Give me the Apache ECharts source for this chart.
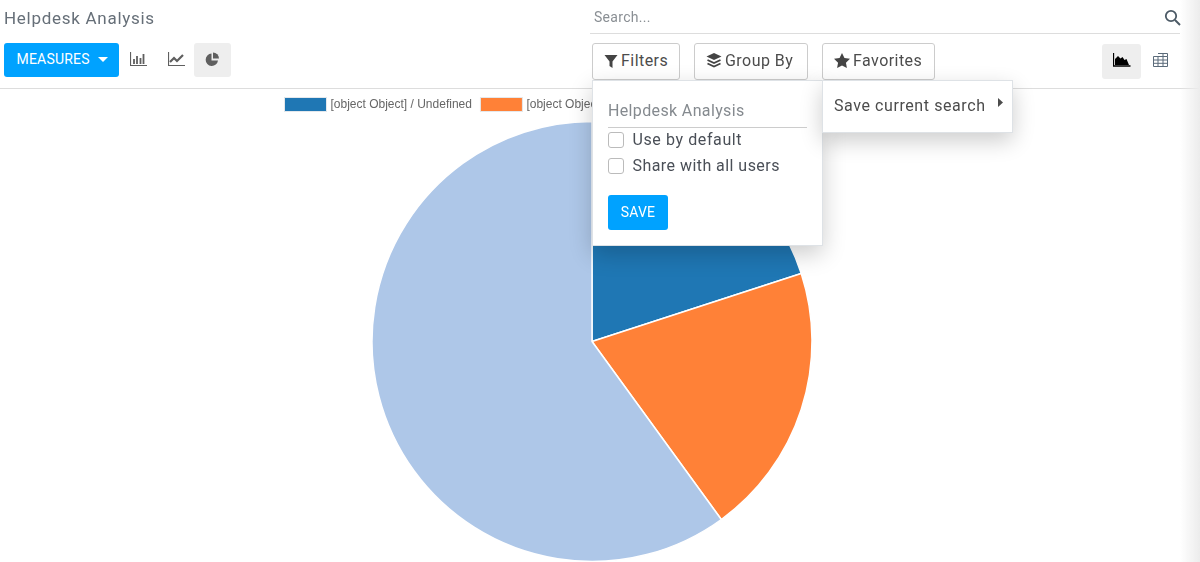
<!DOCTYPE html>
<html>
<head>
<meta charset="utf-8">
<title>Helpdesk Analysis</title>
<script src="https://cdn.jsdelivr.net/npm/echarts@6/dist/echarts.min.js"></script>
<style type="text/css">
	html, body { margin: 0; padding: 0; background: #fff; overflow: hidden; }
	body { width: 1200px; height: 562px; position: relative; font-family: Roboto, "Noto Sans", sans-serif; color: #4c4c4c; font-size: 16px; }
	#main { position: absolute; left: 0; top: 0; width: 1200px; height: 562px; }
	.abs { position: absolute; box-sizing: border-box; white-space: nowrap; }
	.btn { border: 1px solid #ccc; border-radius: 3px; background: #fff; height: 37px; top: 43px; line-height: 33px; padding-left: 11px; letter-spacing: .45px; }
	.btn svg { vertical-align: -2px; margin-right: 3px; }
	.active { background: #eee; border-radius: 3px; }
	.popup { background: #fff; border: 1px solid #dee2e6; box-shadow: 0 8px 22px rgba(0,0,0,.2); }
	.check { width: 16px; height: 16px; border: 1px solid #bbb; border-radius: 3px; background: #fff; left: 608px; }
	.edge { left: 1180px; top: 0; width: 20px; height: 562px; background: linear-gradient(to right, rgba(235,235,235,0), #ececec); }
</style>
</head>
<body>
	<div id="main"></div>

	<!-- top bar -->
	<div class="abs" style="left:4px;top:8px;font-size:17px;line-height:20px;color:#666f78;letter-spacing:.72px">Helpdesk Analysis</div>
	<div class="abs" style="left:594px;top:8px;font-size:14px;line-height:18px;color:#8a8f94;letter-spacing:.3px">Search...</div>
	<div class="abs" style="left:590px;top:33px;width:590px;height:1px;background:#ddd"></div>
	<svg class="abs" style="left:1164px;top:9px" width="17" height="17" viewBox="0 0 17 17"><circle cx="7" cy="7" r="5.2" fill="none" stroke="#4c5a66" stroke-width="1.8"/><path d="M11 11l5 5" stroke="#4c5a66" stroke-width="2"/></svg>
	<div class="abs" style="left:0;top:88px;width:1200px;height:1px;background:#ddd"></div>

	<div class="abs" style="left:4px;top:43px;width:115px;height:34px;background:#00a2ff;border-radius:3px;color:#fff;font-size:14px;line-height:32px;padding-left:12.5px;letter-spacing:.2px">MEASURES</div>
	<svg class="abs" style="left:98px;top:57px" width="10" height="6"><path d="M0 0h10L5 5z" fill="#fff"/></svg>
	<svg class="abs" style="left:130px;top:52px" width="18" height="14" viewBox="0 0 18 14"><path d="M.5 0v13.5H17" stroke="#5f5f5f" stroke-width="1.2" fill="none"/><path d="M4 7v5M7 4v8M10.500 6v6M13.500 2v10" stroke="#5f5f5f" stroke-width="1.8" fill="none"/></svg>
	<svg class="abs" style="left:168px;top:52px" width="18" height="14" viewBox="0 0 18 14"><path d="M.5 0v13.5H17" stroke="#5f5f5f" stroke-width="1.2" fill="none"/><path d="M2 10l4-4 3 3 6-6" stroke="#5f5f5f" stroke-width="2.2" fill="none"/></svg>
	<div class="abs active" style="left:194px;top:43px;width:37px;height:34px"></div>
	<svg class="abs" style="left:205px;top:52px" width="15" height="15" viewBox="0 0 15 15"><path d="M6.500 1.500A6.200 6.200 0 1 0 13 8.500H6.500z" fill="#5f5f5f"/><path d="M8 0.500A6 6 0 0 1 14 6.500H8z" fill="#5f5f5f"/></svg>

	<div class="abs btn" style="left:592px;width:88px">
		<svg width="14" height="13" viewBox="0 0 13 13"><path d="M0 0h13L8 6.500V13L5 11V6.500z" fill="#444"/></svg>Filters
	</div>
	<div class="abs btn" style="left:694px;width:114px">
		<svg width="16" height="15" viewBox="0 0 15 15"><path d="M7.500 0L15 3.500 7.500 7 0 3.500z" fill="#444"/><path d="M1 7l6.500 3L14 7M1 10.500l6.500 3 6.500-3" fill="none" stroke="#444" stroke-width="1.800"/></svg>Group By
	</div>
	<div class="abs btn" style="left:822px;width:113px">
		<svg width="16" height="15" viewBox="0 0 15 14"><path d="M7.500 0l2.300 4.700 5.200.7-3.800 3.600.9 5-4.600-2.400L2.900 14l.9-5L0 5.400l5.200-.7z" fill="#444"/></svg>Favorites
	</div>

	<div class="abs active" style="left:1102px;top:44px;width:39px;height:35px"></div>
	<svg class="abs" style="left:1113px;top:53px" width="18" height="14" viewBox="0 0 18 14"><path d="M.5 0v13H17.500" stroke="#000" stroke-width="1.300" fill="none"/><path d="M2 12V6l3-3 2.500 2.500L9.500 4l2 3 2-1 2.500 6z" fill="#000"/></svg>
	<svg class="abs" style="left:1153px;top:53px" width="15" height="14" viewBox="0 0 15 14"><path d="M.5 3.500h14v10H.500zM5 .5h9.500v3M.5 7h14M.5 10.300h14M5 3.500v10M10 .5v13" fill="none" stroke="#5b6b7a" stroke-width="1"/></svg>

	<!-- dropdowns -->
	<div class="abs popup" style="left:592px;top:80px;width:231px;height:166px"></div>
	<div class="abs popup" style="left:822px;top:80px;width:191px;height:53px"></div>
	<div class="abs" style="left:608px;top:101px;line-height:20px;color:#858a8f;letter-spacing:.36px">Helpdesk Analysis</div>
	<div class="abs" style="left:608px;top:127px;width:199px;height:1px;background:#ccc"></div>
	<div class="abs check" style="top:132px"></div>
	<div class="abs" style="left:632.5px;top:130px;line-height:20px;letter-spacing:.6px;color:#4a4f57">Use by default</div>
	<div class="abs check" style="top:158px"></div>
	<div class="abs" style="left:632.5px;top:156px;line-height:20px;letter-spacing:.45px;color:#4a4f57">Share with all users</div>
	<div class="abs" style="left:608px;top:195px;width:60px;height:35px;background:#00a2ff;border-radius:3px;color:#fff;font-size:14px;line-height:34px;text-align:center;letter-spacing:.2px">SAVE</div>
	<div class="abs" style="left:834px;top:96px;line-height:20px;letter-spacing:.58px">Save current search</div>
	<svg class="abs" style="left:998px;top:98px" width="5" height="9"><path d="M0 0l5 4.500L0 9z" fill="#4c4c4c"/></svg>

	<div class="abs edge"></div>

	<script type="text/javascript">
		var names = ['[object Object] / Undefined', '[object Object] / Open', '[object Object] / Closed'];
		var values = [1, 1, 3];
		var colors = ['#1f77b4', '#ff8137', '#aec7e8'];

		var pieData = [];
		for (var i = 0; i < names.length; i++) {
			pieData.push({ name: names[i], value: values[i], itemStyle: { color: colors[i] } });
		}

		var myChart = echarts.init(document.getElementById('main'), null, { renderer: 'canvas' });
		myChart.setOption({
			animation: false,
			legend: {
				left: 284,
				top: 97,
				padding: 0,
				itemWidth: 42,
				itemHeight: 14,
				itemGap: 8,
				icon: 'rect',
				selectedMode: false,
				itemStyle: { borderColor: '#e4e8ec', borderWidth: 1 },
				textStyle: { fontFamily: 'Liberation Sans', fontSize: 12, color: '#666', padding: [0, 0, 0, -1] },
				data: names
			},
			series: [{
				type: 'pie',
				center: [592, 341.5],
				radius: [0, 220],
				startAngle: 90,
				clockwise: true,
				label: { show: false },
				labelLine: { show: false },
				emphasis: { disabled: true },
				itemStyle: { borderColor: '#fff', borderWidth: 1.5 },
				data: pieData
			}]
		});
	</script>
</body>
</html>
